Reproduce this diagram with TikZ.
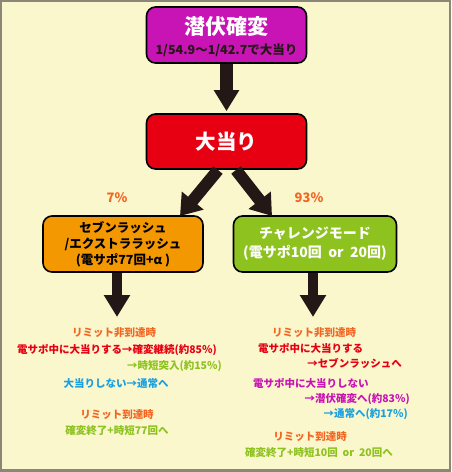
\documentclass[tikz,border=0pt]{standalone}
\usepackage{fontspec}
\setmainfont{Noto Sans CJK JP}
\usetikzlibrary{arrows.meta}
\definecolor{bg}{HTML}{FBF7CD}
\definecolor{frame}{HTML}{8A8679}
\definecolor{mag}{HTML}{C814B4}
\definecolor{redc}{HTML}{E60012}
\definecolor{orangec}{HTML}{F39800}
\definecolor{greenc}{HTML}{8DC21F}
\definecolor{arrowc}{HTML}{231815}
\definecolor{pct}{HTML}{F26522}
\definecolor{bluec}{HTML}{1AA0E0}
\tikzset{
  box/.style={draw=black, line width=1.6pt, rounded corners=9pt, inner sep=0pt},
  txt/.style={inner sep=0pt, font=\bfseries\fontsize{10.5}{12}\selectfont},
  bigarrow/.style={draw=arrowc, line width=13pt, -{Triangle[width=24pt,length=21pt]}},
  diagarrow/.style={draw=arrowc, line width=12pt, -{Triangle[width=27pt,length=20pt]}},
  downarrow/.style={draw=arrowc, line width=10pt, -{Triangle[width=25pt,length=22pt]}}
}
\begin{document}
\begin{tikzpicture}[x=1pt,y=-1pt]
\useasboundingbox (0,0) rectangle (451,472);
\fill[frame] (0,0) rectangle (451,472);
\fill[bg] (2,2) rectangle (449,469);

% boxes
\node[box, fill=mag, minimum width=160pt, minimum height=56pt] (b1) at (226.5,35) {};
\node[txt, white, font=\bfseries\fontsize{21}{21}\selectfont] (b1t) at (226.5,27) {潜伏確変};
\node[txt, arrowc, font=\bfseries\fontsize{12.5}{13}\selectfont] (b1s) at (226.5,50) {1/54.9～1/42.7で大当り};

\node[box, fill=redc, minimum width=160pt, minimum height=55pt] (b2) at (226.5,141.5) {};
\node[txt, white, font=\bfseries\fontsize{20.5}{21}\selectfont] (b2t) at (226.5,141.5) {大当り};

\node[box, fill=orangec, minimum width=160pt, minimum height=56pt,
      align=center, text=black, font=\bfseries\fontsize{12.5}{16}\selectfont] (b3) at (123,244)
  {セブンラッシュ\\/エクストララッシュ\\(電サポ77回+α )};

\node[box, fill=greenc, minimum width=163pt, minimum height=56pt,
      align=center, text=white, font=\bfseries\fontsize{14}{19}\selectfont] (b4) at (315,244)
  {チャレンジモード\\(電サポ10回\ \ or\ \ 20回)};

% arrows
\coordinate (ls) at (218,170);
\coordinate (rs) at (236,170);
\coordinate (lt) at (180,216);
\coordinate (rt) at (272,216);
\coordinate (d1) at (117,317);
\coordinate (d2) at (313,317);
\draw[bigarrow, shorten >=2pt] (b1.south) -- (b2.north);
\draw[diagarrow] (ls) -- (lt);
\draw[diagarrow] (rs) -- (rt);
\draw[downarrow] (b3.south -| d1) -- (d1);
\draw[downarrow] (b4.south -| d2) -- (d2);

% percentages
\node[txt, pct, font=\bfseries\fontsize{13}{13}\selectfont] (p1) at (117,198) {7\%};
\node[txt, pct, font=\bfseries\fontsize{13}{13}\selectfont] (p2) at (309,198) {93\%};

% left column
\node[txt, pct] (l1) at (114,333) {リミット非到達時};
\node[txt, redc] (l2) at (117,350) {電サポ中に大当りする→確変継続(約85％)};
\node[txt, greenc, anchor=east] (l3) at (222,366.5) {→時短突入(約15％)};
\node[txt, bluec] (l4) at (116,383) {大当りしない→通常へ};
\node[txt, pct] (l5) at (117,415) {リミット到達時};
\node[txt, greenc] (l6) at (117,431) {確変終了+時短77回へ};

% right column
\node[txt, pct] (r1) at (314,333) {リミット非到達時};
\node[txt, redc, anchor=west] (r2) at (258,348) {電サポ中に大当りする};
\node[txt, redc, anchor=east] (r3) at (402,363) {→セブンラッシュへ};
\node[txt, mag, anchor=west] (r4) at (253,383) {電サポ中に大当りしない};
\node[txt, mag, anchor=east] (r5) at (410,399) {→潜伏確変へ(約83％)};
\node[txt, bluec, anchor=east] (r6) at (408,414) {→通常へ(約17％)};
\node[txt, pct] (r7) at (310,437) {リミット到達時};
\node[txt, greenc] (r8) at (319,453) {確変終了+時短10回\ \ or\ \ 20回へ};
\end{tikzpicture}
\end{document}
